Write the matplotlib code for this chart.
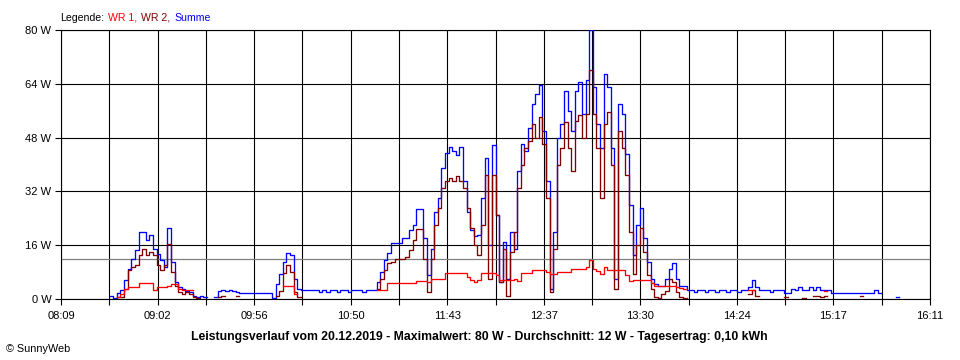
import numpy as np
import matplotlib
matplotlib.use("Agg")
import matplotlib.pyplot as plt
from matplotlib.offsetbox import TextArea, HPacker, AnchoredOffsetbox

plt.rcParams['font.family'] = ['Liberation Sans', 'DejaVu Sans']

nan = np.nan

# sampling: first sample 08:36 (minutes after midnight), one sample every 2 minutes
start_minute = 516
step_minutes = 2

# Summe (blue)
summe = [
    1.0, 0.3, 1.8, 2.8, 5.6, 9.0, 12.0, 14.7, 19.8, 19.8,
    17.5, 19.0, 15.0, 13.5, 11.5, 9.5, 21.0, 11.0, 5.0, 3.5,
    3.0, 2.5, 2.0, 1.0, 0.5, 0.8, 0.5, nan, nan, 0.5,
    2.5, 2.8, 2.3, 2.8, 2.3, 2.0, 1.8, 1.8, 1.8, 1.8,
    1.8, 1.8, 1.8, 1.8, 1.8, 0.3, 4.5, 7.5, 11.0, 13.7,
    13.0, 6.0, 3.0, 2.6, 2.6, 2.6, 2.6, 2.6, 2.0, 2.6,
    2.0, 2.6, 2.6, 2.0, 2.6, 2.6, 2.0, 2.6, 2.6, 2.6,
    2.0, 2.6, 2.6, 2.6, 5.0, 8.0, 11.6, 13.6, 16.6, 16.6,
    16.6, 18.0, 18.0, 20.5, 22.0, 26.8, 26.8, 18.0, 7.0, 15.0,
    26.0, 30.0, 39.0, 43.5, 45.3, 44.0, 42.8, 45.3, 35.0, 26.0,
    20.6, 18.6, 19.0, 30.0, 42.0, 16.0, 45.8, 25.0, 5.0, 17.0,
    6.0, 20.0, 15.0, 38.0, 46.0, 44.0, 51.0, 58.0, 61.0, 63.6,
    50.0, 35.0, 3.0, 20.0, 48.0, 52.0, 62.0, 56.0, 50.0, 62.0,
    64.6, 55.0, 65.0, 80.0, 63.0, 52.0, 45.0, 67.0, 63.0, 45.0,
    6.0, 58.0, 55.0, 43.0, 28.0, 13.0, 22.0, 27.0, 18.0, 11.0,
    6.0, 4.5, 4.0, 4.0, 6.0, 9.0, 10.7, 6.0, 4.0, 3.8,
    2.6, 2.6, 2.0, 2.6, 2.6, 2.0, 2.6, 2.6, 2.0, 2.6,
    2.6, 2.0, 2.6, 2.6, 2.0, 2.6, 2.6, 3.6, 5.6, 3.5,
    2.6, 2.6, 2.6, 2.0, 2.6, 2.6, 2.6, 1.9, 1.9, 3.0,
    2.6, 3.5, 2.6, 2.6, 3.5, 2.6, 3.5, 2.6, 2.6, 2.6,
    1.9, 1.9, 1.9, 1.9, 1.9, 1.9, 1.9, 1.9, 1.9, 1.9,
    1.9, 1.9, 2.6, 1.9, nan, nan, nan, nan, 0.6, nan,
]

# WR 2 (dark red)
wr2 = [
    nan, nan, 0.5, 0.5, 3.0, 8.5, 9.5, 10.0, 13.0, 15.0,
    13.0, 14.0, 13.0, 10.0, 8.7, 10.0, 16.5, 8.0, 4.0, 2.0,
    1.5, 2.0, 1.5, 0.5, 0.2, nan, nan, nan, nan, nan,
    0.5, 0.8, nan, nan, nan, 0.8, nan, nan, nan, nan,
    nan, nan, nan, nan, nan, nan, 1.0, 2.5, 7.6, 10.1,
    8.0, 2.0, 0.5, nan, nan, nan, nan, nan, nan, nan,
    nan, nan, nan, nan, nan, nan, nan, nan, nan, nan,
    nan, nan, nan, nan, 3.0, 6.0, 8.5, 10.6, 11.0, 12.0,
    12.0, 12.0, 12.5, 14.6, 17.5, 20.8, 20.8, 12.0, 2.0, 12.0,
    22.0, 27.0, 33.0, 35.0, 36.0, 35.0, 36.5, 35.0, 33.0, 27.0,
    21.0, 16.0, 13.0, 22.0, 37.0, 6.0, 37.0, 25.0, 5.0, 15.0,
    1.0, 14.0, 20.0, 33.0, 40.0, 45.0, 47.0, 52.0, 48.0, 54.0,
    46.0, 30.0, 2.0, 15.0, 40.0, 45.0, 52.6, 45.0, 38.0, 53.0,
    54.7, 48.0, 55.0, 68.0, 55.0, 45.0, 30.0, 52.0, 55.6, 40.0,
    3.0, 50.0, 45.0, 37.0, 20.0, 7.5, 16.0, 21.0, 14.0, 7.0,
    3.0, 0.5, 0.3, 1.5, 2.5, 6.0, 5.0, 2.0, 0.5, 0.2,
    nan, nan, nan, nan, nan, nan, nan, nan, nan, nan,
    nan, nan, nan, nan, nan, nan, nan, 1.5, 2.7, 1.0,
    nan, nan, nan, nan, nan, nan, nan, 0.5, nan, nan,
    nan, nan, 0.4, nan, nan, 0.8, 1.0, 0.6, 1.0, nan,
    nan, nan, nan, nan, nan, nan, nan, nan, 0.8, nan,
    nan, nan, nan, nan, nan, nan, nan, nan, nan, nan,
]

# WR 1 (red)
wr1 = [
    nan, nan, 0.5, 1.5, 3.0, 3.6, 3.6, 3.6, 4.8, 4.8,
    4.8, 4.8, 2.8, 3.6, 3.6, 3.6, 4.0, 4.4, 4.4, 3.0,
    2.8, 2.8, 2.8, nan, nan, nan, nan, nan, nan, nan,
    nan, nan, nan, nan, nan, nan, nan, nan, nan, nan,
    nan, nan, nan, nan, nan, nan, nan, nan, 3.9, 3.9,
    3.9, 1.5, nan, nan, nan, nan, nan, nan, nan, nan,
    nan, nan, nan, nan, nan, nan, nan, nan, nan, nan,
    nan, nan, nan, nan, 2.8, 2.8, 2.8, 4.8, 4.8, 4.8,
    4.8, 4.8, 4.8, 4.8, 4.8, 5.5, 5.5, 5.5, 5.0, 5.9,
    5.9, 5.9, 5.9, 7.6, 7.6, 7.6, 7.6, 7.6, 7.6, 6.6,
    5.6, 5.0, 5.6, 7.6, 7.6, 7.6, 7.6, 7.0, 5.6, 5.6,
    5.6, 5.6, 6.0, 5.5, 7.6, 7.6, 7.6, 8.6, 8.6, 8.6,
    8.6, 8.0, 7.5, 7.5, 8.1, 8.1, 8.1, 8.1, 8.8, 8.8,
    8.8, 8.8, 9.5, 11.6, 9.0, 8.3, 7.5, 9.6, 8.6, 8.6,
    8.6, 8.6, 8.6, 7.0, 5.5, 5.6, 5.6, 5.6, 5.6, 5.6,
    4.8, 4.0, 3.8, 3.8, 3.8, 3.8, 3.8, 3.5, 3.2, 3.0,
    nan, nan, nan, nan, nan, nan, nan, nan, nan, nan,
    nan, nan, nan, nan, nan, nan, nan, 2.6, 2.6, nan,
    nan, nan, nan, nan, nan, nan, nan, nan, nan, nan,
    nan, nan, nan, nan, nan, nan, nan, nan, 2.5, nan,
    nan, nan, nan, nan, nan, nan, nan, nan, nan, nan,
    nan, nan, nan, nan, nan, nan, nan, nan, nan, nan,
]

x_start_minute = 489   # 08:09
x_end_minute = 971     # 16:11
x_tick_labels = ["08:09", "09:02", "09:56", "10:50", "11:43",
                 "12:37", "13:30", "14:24", "15:17", "16:11"]
y_ticks = [0, 16, 32, 48, 64, 80]
average_w = 12
legend_parts = [("Legende:", "#000000"), ("WR 1,", "#ff0000"),
                 ("WR 2,", "#800000"), ("Summe", "#0000ff")]
title_text = ("Leistungsverlauf vom 20.12.2019 - Maximalwert: 80 W - "
              "Durchschnitt: 12 W - Tagesertrag: 0,10 kWh")
copyright_text = "\u00a9 SunnyWeb"

times = start_minute + step_minutes * np.arange(len(summe))

W, H = 960, 360
fig = plt.figure(figsize=(W / 100, H / 100), dpi=100)
fig.patch.set_facecolor("white")
L, R, T, B = 61, 930, 30, 299
ax = fig.add_axes([L / W, 1 - B / H, (R - L) / W, (B - T) / H])

ax.plot(times, summe, drawstyle="steps-post", color="#0000ff", lw=0.95, zorder=3)
ax.plot(times, wr2, drawstyle="steps-post", color="#800000", lw=0.95, zorder=4)
ax.plot(times, wr1, drawstyle="steps-post", color="#ff0000", lw=0.95, zorder=5)
ax.axhline(average_w, color="#808080", lw=0.9, zorder=2.5)

ax.set_xlim(x_start_minute, x_end_minute)
ax.set_ylim(0, 80)

major = np.linspace(x_start_minute, x_end_minute, len(x_tick_labels))
minor = (major[:-1] + major[1:]) / 2
ax.set_xticks(major)
ax.set_xticklabels(x_tick_labels)
ax.set_xticks(minor, minor=True)
ax.set_yticks(y_ticks)
ax.set_yticklabels([f"{v} W" for v in y_ticks])

ax.set_axisbelow(True)
ax.xaxis.grid(True, which="both", color="black", lw=0.8)
ax.yaxis.grid(True, which="major", color="black", lw=0.8)
for s in ax.spines.values():
    s.set_color("black")
    s.set_linewidth(0.8)

ax.tick_params(axis="both", which="both", direction="out", length=4,
               width=0.8, color="black", labelsize=8, pad=3)
ax.tick_params(axis="x", which="major", pad=4.5)

boxes = [TextArea(t, textprops=dict(color=c, fontsize=7.6)) for t, c in legend_parts]
pack = HPacker(children=boxes, align="baseline", pad=0, sep=3)
anch = AnchoredOffsetbox(loc="lower left", child=pack, pad=0, borderpad=0,
                         frameon=False, bbox_to_anchor=(60 / W, 1 - 23 / H),
                         bbox_transform=fig.transFigure)
fig.add_artist(anch)

fig.text(479 / W, 1 - 340 / H, title_text, ha="center", va="baseline",
         fontsize=8.8, fontweight="bold")
fig.text(6 / W, 1 - 352 / H, copyright_text, ha="left", va="baseline",
         fontsize=7.8)

fig.savefig("out.png", dpi=100, facecolor="white")
